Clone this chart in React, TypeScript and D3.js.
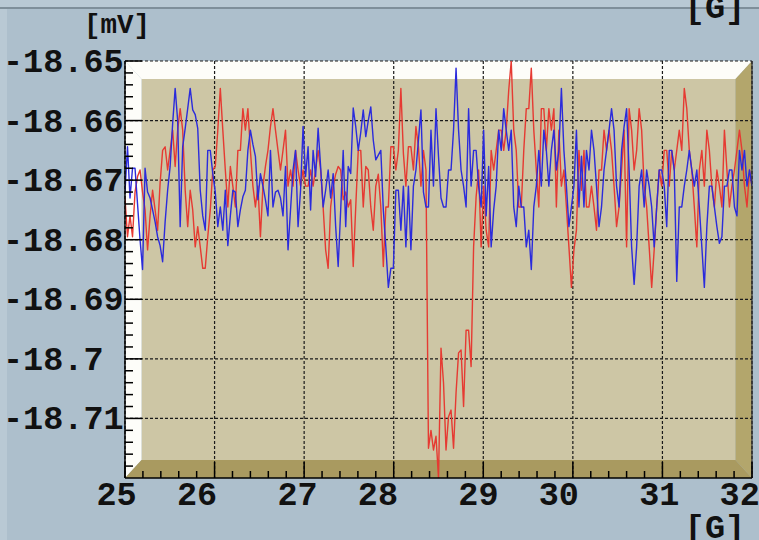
import React from "react";
import * as d3 from "d3";

const WIDTH = 759;
const HEIGHT = 540;

// Field sweep: start and increment in gauss, one sample per step
const fieldStart = 25;
const fieldStep = 0.028;

// Channel signals in mV, one value per field step
const redSignal = [
  -18.673, -18.6795, -18.676, -18.6795, -18.672, -18.6694, -18.6683, -18.672, -18.675, -18.6817,
  -18.676, -18.6717, -18.675, -18.6784, -18.6705, -18.665, -18.6644, -18.6683, -18.665, -18.6616,
  -18.6677, -18.6616, -18.658, -18.6616, -18.6717, -18.6778, -18.6717, -18.675, -18.6812, -18.6778,
  -18.6812, -18.6848, -18.6848, -18.6795, -18.675, -18.6683, -18.6677, -18.6616, -18.6546, -18.6616,
  -18.6683, -18.6745, -18.6677, -18.671, -18.6745, -18.665, -18.665, -18.658, -18.6616, -18.658,
  -18.665, -18.671, -18.6745, -18.671, -18.6795, -18.671, -18.6677, -18.665, -18.661, -18.658,
  -18.6616, -18.665, -18.6683, -18.665, -18.6616, -18.671, -18.6683, -18.671, -18.665, -18.6683,
  -18.671, -18.6683, -18.671, -18.671, -18.6683, -18.671, -18.6683, -18.665, -18.6683, -18.6745,
  -18.6817, -18.6848, -18.6745, -18.671, -18.669, -18.6677, -18.6683, -18.6733, -18.672, -18.6745,
  -18.6733, -18.6845, -18.6745, -18.665, -18.665, -18.6745, -18.6677, -18.6683, -18.6745, -18.6784,
  -18.671, -18.669, -18.6745, -18.6845, -18.6745, -18.6745, -18.6644, -18.6644, -18.6683, -18.665,
  -18.6546, -18.6655, -18.671, -18.6644, -18.6644, -18.6683, -18.661, -18.6644, -18.671, -18.665,
  -18.6683, -18.715, -18.712, -18.7153, -18.713, -18.72, -18.6982, -18.704, -18.7153, -18.7097,
  -18.7086, -18.715, -18.7057, -18.699, -18.6985, -18.708, -18.6952, -18.6952, -18.7013, -18.6812,
  -18.6728, -18.6683, -18.6812, -18.671, -18.6784, -18.6812, -18.665, -18.6683, -18.665, -18.6616,
  -18.6616, -18.665, -18.6616, -18.6549, -18.65, -18.6616, -18.665, -18.6745, -18.6745, -18.665,
  -18.658, -18.658, -18.6512, -18.6616, -18.6683, -18.6745, -18.658, -18.658, -18.665, -18.658,
  -18.6616, -18.658, -18.6745, -18.6616, -18.671, -18.6683, -18.6745, -18.6812, -18.688, -18.6817,
  -18.6784, -18.665, -18.6717, -18.665, -18.6745, -18.6745, -18.671, -18.6745, -18.6784, -18.6683,
  -18.6683, -18.6616, -18.665, -18.6616, -18.665, -18.671, -18.6778, -18.6745, -18.6683, -18.6616,
  -18.6812, -18.658, -18.6616, -18.6683, -18.665, -18.658, -18.6616, -18.671, -18.6745, -18.6812,
  -18.688, -18.6817, -18.6745, -18.6683, -18.671, -18.665, -18.665, -18.671, -18.665, -18.6683,
  -18.665, -18.6616, -18.665, -18.6546, -18.658, -18.665, -18.6683, -18.6745, -18.6812, -18.6683,
  -18.665, -18.671, -18.6616, -18.665, -18.671, -18.6745, -18.6683, -18.671, -18.6745, -18.6616,
  -18.6683, -18.6745, -18.671, -18.6683, -18.665, -18.6616, -18.665, -18.671, -18.6745, -18.6683,
  -18.671,
];

const blueSignal = [
  -18.672, -18.6644, -18.673, -18.668, -18.668, -18.674, -18.68, -18.685, -18.668, -18.672,
  -18.673, -18.675, -18.677, -18.6795, -18.681, -18.6837, -18.677, -18.6717, -18.6677, -18.6605,
  -18.6546, -18.66, -18.6778, -18.6644, -18.6613, -18.658, -18.6546, -18.6582, -18.659, -18.6613,
  -18.6717, -18.676, -18.6784, -18.665, -18.665, -18.6689, -18.672, -18.6778, -18.6745, -18.6784,
  -18.6717, -18.681, -18.676, -18.6717, -18.672, -18.6778, -18.675, -18.6728, -18.6717, -18.665,
  -18.6616, -18.664, -18.666, -18.6733, -18.6689, -18.671, -18.6733, -18.676, -18.665, -18.6745,
  -18.672, -18.6717, -18.673, -18.676, -18.6677, -18.6817, -18.675, -18.6683, -18.665, -18.6778,
  -18.6717, -18.661, -18.6694, -18.6644, -18.675, -18.665, -18.6694, -18.6613, -18.6677, -18.6745,
  -18.6717, -18.6683, -18.673, -18.6689, -18.6778, -18.6845, -18.675, -18.665, -18.6778, -18.6677,
  -18.6689, -18.6579, -18.661, -18.665, -18.662, -18.6582, -18.6627, -18.66, -18.6577, -18.6633,
  -18.6666, -18.6658, -18.665, -18.675, -18.6812, -18.688, -18.6848, -18.6848, -18.6717, -18.6717,
  -18.6784, -18.671, -18.6812, -18.671, -18.6817, -18.671, -18.6683, -18.6633, -18.6582, -18.672,
  -18.6745, -18.6745, -18.6616, -18.671, -18.658, -18.666, -18.673, -18.6745, -18.6745, -18.6683,
  -18.6683, -18.6616, -18.6512, -18.6616, -18.6683, -18.671, -18.6745, -18.658, -18.671, -18.665,
  -18.665, -18.671, -18.6745, -18.6616, -18.676, -18.6677, -18.6812, -18.675, -18.671, -18.6616,
  -18.665, -18.658, -18.6616, -18.665, -18.6616, -18.6745, -18.6778, -18.671, -18.6745, -18.6745,
  -18.6812, -18.6784, -18.685, -18.6745, -18.671, -18.665, -18.671, -18.6616, -18.665, -18.671,
  -18.665, -18.6616, -18.6683, -18.665, -18.6546, -18.665, -18.671, -18.6778, -18.6745, -18.671,
  -18.6616, -18.6745, -18.666, -18.6745, -18.665, -18.6683, -18.6616, -18.665, -18.671, -18.6778,
  -18.6745, -18.6683, -18.665, -18.6616, -18.658, -18.6616, -18.671, -18.6745, -18.665, -18.661,
  -18.658, -18.6683, -18.6812, -18.6875, -18.6812, -18.671, -18.6683, -18.6745, -18.6683, -18.671,
  -18.6745, -18.6812, -18.6745, -18.6683, -18.6683, -18.671, -18.6778, -18.665, -18.665, -18.6683,
  -18.687, -18.6745, -18.6745, -18.671, -18.6683, -18.665, -18.6683, -18.671, -18.6683, -18.6745,
  -18.6812, -18.688, -18.6778, -18.671, -18.671, -18.6745, -18.6778, -18.6806, -18.6795, -18.671,
  -18.671, -18.6683, -18.6683, -18.6745, -18.676, -18.665, -18.6683, -18.665, -18.671, -18.6683,
  -18.671,
];

// Axis ranges and ticks
const fieldDomain = [25, 32];
const voltageDomain = [-18.72, -18.65];
const xTickValues = [25, 26, 27, 28, 29, 30, 31, 32];
const xTickLabels = ["25", "26", "27", "28", "29", "30", "31", "32"];
const yTickValues = [-18.65, -18.66, -18.67, -18.68, -18.69, -18.7, -18.71];
const yTickLabels = ["-18.65", "-18.66", "-18.67", "-18.68", "-18.69", "-18.7", "-18.71"];
const xMinorStep = 0.2;
const yMinorStep = 0.002;
const yUnit = "[mV]";
const xUnit = "[G]";

// Frame geometry
const FRAME = { left: 125, top: 61, right: 752, bottom: 478 };
const DEPTH_X = 16.5;
const DEPTH_Y = 18;

const FONT = "'Liberation Mono', 'DejaVu Sans Mono', monospace";
const LABEL_SIZE = 33.5;
const CELL = LABEL_SIZE * 0.6;
const CELL_ORIGIN = 16.1;

const COLORS = {
  page: "#adbfcc",
  band: "#b9c9d4",
  bandLine: "#7f8f9a",
  back: "#cdc6a5",
  wallLight: "#fdfdf9",
  wallRight: "#b3a66c",
  floor: "#a99a60",
  grid: "#1a1a1a",
  axis: "#000000",
  red: "#e63a32",
  blue: "#2b2bdc",
};

export default function App() {
  const { left: L, top: T, right: R, bottom: B } = FRAME;

  const x = d3.scaleLinear().domain(fieldDomain).range([L, R]);
  const y = d3.scaleLinear().domain(voltageDomain).range([B, T]);

  const line = d3
    .line<number>()
    .x((_, i) => x(fieldStart + i * fieldStep))
    .y((d) => y(d));

  const pts = (p: number[][]) => p.map((q) => q.join(",")).join(" ");

  const xMinor = d3
    .range(fieldDomain[0], fieldDomain[1] + 1e-9, xMinorStep)
    .filter((v) => Math.abs(v - Math.round(v)) > 1e-6);
  const yMinor = d3
    .range(voltageDomain[0], voltageDomain[1] + 1e-9, yMinorStep)
    .filter((v) => Math.abs(v * 100 - Math.round(v * 100)) > 1e-6);

  // tick labels sit on a fixed character grid
  const labelLeft = (tx: number, text: string) => {
    const w = text.length * CELL;
    return CELL_ORIGIN + Math.floor((tx - w / 2 - CELL_ORIGIN) / CELL) * CELL;
  };

  return (
    <svg
      width={WIDTH}
      height={HEIGHT}
      viewBox={`0 0 ${WIDTH} ${HEIGHT}`}
      style={{ position: "absolute", left: 0, top: 0, display: "block" }}
    >
      <defs>
        <clipPath id="plot-clip">
          <rect x={L} y={T} width={R - L} height={B - T} />
        </clipPath>
      </defs>

      {/* window background */}
      <rect x={0} y={0} width={WIDTH} height={HEIGHT} fill={COLORS.page} />
      <rect x={0} y={0} width={7} height={HEIGHT} fill={COLORS.band} />
      <rect x={0} y={0} width={WIDTH} height={7} fill={COLORS.band} />
      <line x1={0} x2={WIDTH} y1={8} y2={8} stroke={COLORS.bandLine} strokeWidth={2} />

      {/* 3D frame */}
      <rect x={L + DEPTH_X} y={T + DEPTH_Y} width={R - L - 2 * DEPTH_X} height={B - T - 2 * DEPTH_Y} fill={COLORS.back} />
      <polygon
        points={pts([[L, T], [R, T], [R - DEPTH_X, T + DEPTH_Y], [L + DEPTH_X, T + DEPTH_Y]])}
        fill={COLORS.wallLight}
      />
      <polygon
        points={pts([[L, T], [L + DEPTH_X, T + DEPTH_Y], [L + DEPTH_X, B - DEPTH_Y], [L, B]])}
        fill={COLORS.wallLight}
      />
      <polygon
        points={pts([[R, T], [R, B], [R - DEPTH_X, B - DEPTH_Y], [R - DEPTH_X, T + DEPTH_Y]])}
        fill={COLORS.wallRight}
      />
      <polygon
        points={pts([[L, B], [L + DEPTH_X, B - DEPTH_Y], [R - DEPTH_X, B - DEPTH_Y], [R, B]])}
        fill={COLORS.floor}
      />

      {/* dotted grid */}
      <g stroke={COLORS.grid} strokeWidth={1.2} strokeDasharray="3,2" fill="none">
        {yTickValues.map((v) => (
          <line key={`gy${v}`} x1={L} x2={R} y1={y(v)} y2={y(v)} />
        ))}
        {xTickValues.map((v) => (
          <line key={`gx${v}`} x1={x(v)} x2={x(v)} y1={T} y2={B} />
        ))}
      </g>

      {/* signals */}
      <g clipPath="url(#plot-clip)" fill="none" strokeLinejoin="round">
        <path d={line(redSignal) || ""} stroke={COLORS.red} strokeWidth={1.4} />
        <path d={line(blueSignal) || ""} stroke={COLORS.blue} strokeWidth={1.4} />
      </g>

      {/* axes */}
      <g stroke={COLORS.axis} strokeWidth={1.5}>
        <line x1={L} x2={L} y1={T} y2={B} />
        <line x1={L} x2={R} y1={B} y2={B} />
        <line x1={R} x2={R} y1={T} y2={B} stroke="#2a2a2a" strokeWidth={1.2} />
        {yTickValues.map((v) => (
          <line key={`ty${v}`} x1={L} x2={L + 17} y1={y(v)} y2={y(v)} />
        ))}
        {yMinor.map((v) => (
          <line key={`my${v}`} x1={L} x2={L + 8} y1={y(v)} y2={y(v)} />
        ))}
        {xTickValues.map((v) => (
          <line key={`tx${v}`} x1={x(v)} x2={x(v)} y1={B} y2={B - 16} />
        ))}
        {xMinor.map((v) => (
          <line key={`mx${v}`} x1={x(v)} x2={x(v)} y1={B} y2={B - 7} />
        ))}
      </g>

      {/* labels */}
      <g fontFamily={FONT} fontWeight="bold" fill="#111">
        {yTickValues.map((v, i) => (
          <text key={`ly${v}`} x={3} y={y(v) + 11} fontSize={LABEL_SIZE}>
            {yTickLabels[i]}
          </text>
        ))}
        {xTickValues.map((v, i) => (
          <text key={`lx${v}`} x={labelLeft(x(v), xTickLabels[i])} y={505} fontSize={LABEL_SIZE}>
            {xTickLabels[i]}
          </text>
        ))}
        <text x={117} y={33} fontSize={27.5} textAnchor="middle">
          {yUnit}
        </text>
        <text x={715} y={538} fontSize={LABEL_SIZE} textAnchor="middle">
          {xUnit}
        </text>
        <text x={715} y={18} fontSize={LABEL_SIZE} textAnchor="middle">
          {xUnit}
        </text>
      </g>
    </svg>
  );
}
